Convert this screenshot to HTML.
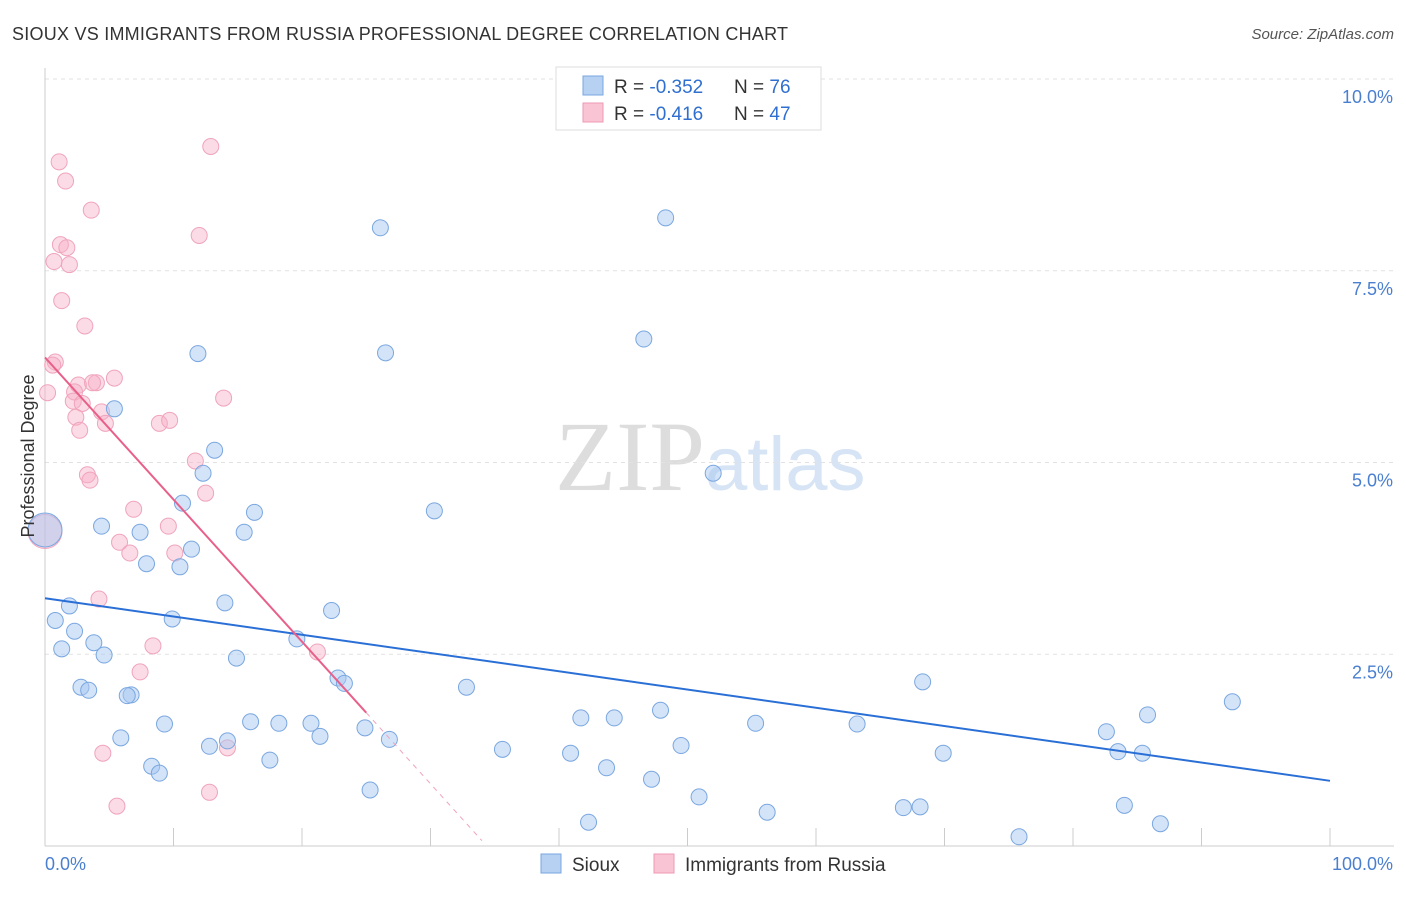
<!DOCTYPE html>
<html><head><meta charset="utf-8"><style>
body{margin:0;background:#fff;font-family:"Liberation Sans",sans-serif}
</style></head><body>
<svg width="1406" height="892" xmlns="http://www.w3.org/2000/svg">
<text x="12" y="40" font-size="18" fill="#333" textLength="776">SIOUX VS IMMIGRANTS FROM RUSSIA PROFESSIONAL DEGREE CORRELATION CHART</text>
<text x="1394" y="39" font-size="15" fill="#555" font-style="italic" text-anchor="end">Source: ZipAtlas.com</text>
<text x="555" y="490" font-size="100" fill="#ddd" font-family="Liberation Serif">ZIP<tspan fill="#d6e4f5" font-family="Liberation Sans" font-size="76">atlas</tspan></text>
<g id="grid"></g>
<g id="axes"></g>
<g id="marks"></g>
<text transform="translate(34,456) rotate(-90)" font-size="18" fill="#333" text-anchor="middle">Professional Degree</text>
<g>
<rect x="556" y="67" width="265" height="63" fill="#fff" stroke="#ddd"/>
<rect x="583" y="76" width="20" height="19" fill="#b7d1f3" stroke="#7aa7e0"/>
<rect x="583" y="103" width="20" height="19" fill="#f9c4d4" stroke="#ee9ab4"/>
<text x="614" y="93" font-size="19" fill="#333">R = <tspan fill="#2f6fd0">-0.352</tspan></text>
<text x="734" y="93" font-size="19" fill="#333">N = <tspan fill="#2f6fd0">76</tspan></text>
<text x="614" y="120" font-size="19" fill="#333">R = <tspan fill="#2f6fd0">-0.416</tspan></text>
<text x="734" y="120" font-size="19" fill="#333">N = <tspan fill="#2f6fd0">47</tspan></text>
</g>
<g>
<rect x="541" y="854" width="20" height="19" fill="#b7d1f3" stroke="#7aa7e0"/>
<text x="572" y="871" font-size="19" fill="#333">Sioux</text>
<rect x="654" y="854" width="20" height="19" fill="#f9c4d4" stroke="#ee9ab4"/>
<text x="685" y="871" font-size="19" fill="#333">Immigrants from Russia</text>
</g>
</svg>
<script>
const yTicks=[2.5,5.0,7.5,10.0];
const yTickLabels=["2.5%","5.0%","7.5%","10.0%"];
const xTicks=[0,10,20,30,40,50,60,70,80,90,100];
const siouxX=[26.1,48.3,11.9,26.5,46.6,5.4,13.2,12.3,52.0,10.7,16.3,30.3,4.4,7.4,15.5,0.0,11.4,7.9,10.5,14.0,1.9,22.3,0.8,9.9,2.3,3.8,1.3,4.6,19.6,14.9,22.8,23.3,2.8,3.4,32.8,68.3,6.7,6.4,92.4,85.8,41.7,44.3,47.9,16.0,18.2,20.7,9.3,55.3,63.2,24.9,82.6,21.4,5.9,26.8,14.2,12.8,49.5,35.6,40.9,69.9,83.5,85.4,17.5,8.3,8.9,43.7,47.2,25.3,50.9,56.2,66.8,68.1,84.0,42.3,86.8,75.8];
const siouxY=[8.06,8.19,6.42,6.43,6.61,5.70,5.16,4.86,4.86,4.47,4.35,4.37,4.17,4.09,4.09,4.12,3.87,3.68,3.64,3.17,3.13,3.07,2.94,2.96,2.80,2.65,2.57,2.49,2.70,2.45,2.19,2.12,2.07,2.03,2.07,2.14,1.97,1.96,1.88,1.71,1.67,1.67,1.77,1.62,1.60,1.60,1.59,1.60,1.59,1.54,1.49,1.43,1.41,1.39,1.37,1.30,1.31,1.26,1.21,1.21,1.23,1.21,1.12,1.04,0.95,1.02,0.87,0.73,0.64,0.44,0.50,0.51,0.53,0.31,0.29,0.12];
const russiaX=[12.9,1.1,1.6,3.6,12.0,1.2,1.7,0.7,1.9,1.3,3.1,0.8,0.6,0.2,2.6,4.0,3.7,5.4,2.3,2.2,2.9,13.9,4.4,2.4,4.7,8.9,9.7,2.7,11.7,3.3,3.5,12.5,6.9,9.6,5.8,6.6,10.1,4.2,8.4,21.2,7.4,4.5,14.2,5.6,12.8,0.0];
const russiaY=[9.12,8.92,8.67,8.29,7.96,7.84,7.80,7.62,7.58,7.11,6.78,6.31,6.27,5.91,6.01,6.04,6.04,6.10,5.92,5.80,5.77,5.84,5.66,5.59,5.51,5.51,5.55,5.42,5.02,4.84,4.77,4.60,4.39,4.17,3.96,3.82,3.82,3.22,2.61,2.53,2.27,1.21,1.28,0.52,0.70,4.10];
const big={s:15,r:45};
const siouxLine=[3.23,0.85];
const russiaLine=[6.37,0.07];
const russiaSolidEnd=25;
const L=45,R=1330,T=79,B=846;
const xs=v=>L+(R-L)*v/100, ys=v=>B-(B-T)*v/10;
const NS="http://www.w3.org/2000/svg";
function mk(p,t,a){const e=document.createElementNS(NS,t);for(const k in a)e.setAttribute(k,a[k]);p.appendChild(e);return e;}
const grid=document.getElementById('grid'),axes=document.getElementById('axes'),marks=document.getElementById('marks');
yTicks.forEach((v,i)=>{
 const g=mk(grid,'line',{x1:L,x2:1394,y1:ys(v),y2:ys(v),stroke:'#e2e2e2','stroke-dasharray':'4,4'});
 
 
 const t=mk(grid,'text',{x:1393,y:ys(v)+24,'font-size':18,fill:'#4a7fd0','text-anchor':'end'});t.textContent=yTickLabels[i];
 
 
});
let a=mk(axes,'line',{x1:L,x2:L,y1:68,y2:B,stroke:'#ccc'});


a=mk(axes,'line',{x1:L,x2:R+64,y1:B,y2:B,stroke:'#ccc'});


xTicks.forEach(v=>{const t=mk(axes,'line',{x1:xs(v),x2:xs(v),y1:828,y2:B,stroke:'#ccc'});
 
 });
let t=mk(axes,'text',{x:45,y:870,'font-size':18,fill:'#4a7fd0'});t.textContent='0.0%';


t=mk(axes,'text',{x:1393,y:870,'font-size':18,fill:'#4a7fd0','text-anchor':'end'});t.textContent='100.0%';


russiaX.forEach((x,i)=>{const c=mk(marks,'circle',{cx:xs(x),cy:ys(russiaY[i]),r:i==big.r?17:8,fill:'rgba(246,176,198,0.45)',stroke:'#f0a4bc','stroke-width':1});
 
 });
siouxX.forEach((x,i)=>{const c=mk(marks,'circle',{cx:xs(x),cy:ys(siouxY[i]),r:i==big.s?17:8,fill:'rgba(168,200,242,0.5)',stroke:'#7aa7e0','stroke-width':1});
 
 });
let l=mk(marks,'line',{x1:xs(0),y1:ys(siouxLine[0]),x2:xs(100),y2:ys(siouxLine[1]),stroke:'#2a6fd6','stroke-width':2});


const rl=x=>russiaLine[0]+(russiaLine[1]-russiaLine[0])*x/34;
l=mk(marks,'line',{x1:xs(0),y1:ys(rl(0)),x2:xs(russiaSolidEnd),y2:ys(rl(russiaSolidEnd)),stroke:'#e8608a','stroke-width':2});


l=mk(marks,'line',{x1:xs(russiaSolidEnd),y1:ys(rl(russiaSolidEnd)),x2:xs(34),y2:ys(rl(34)),stroke:'#f0a4bc','stroke-width':1,'stroke-dasharray':'5,5'});


</script>
</body></html>
